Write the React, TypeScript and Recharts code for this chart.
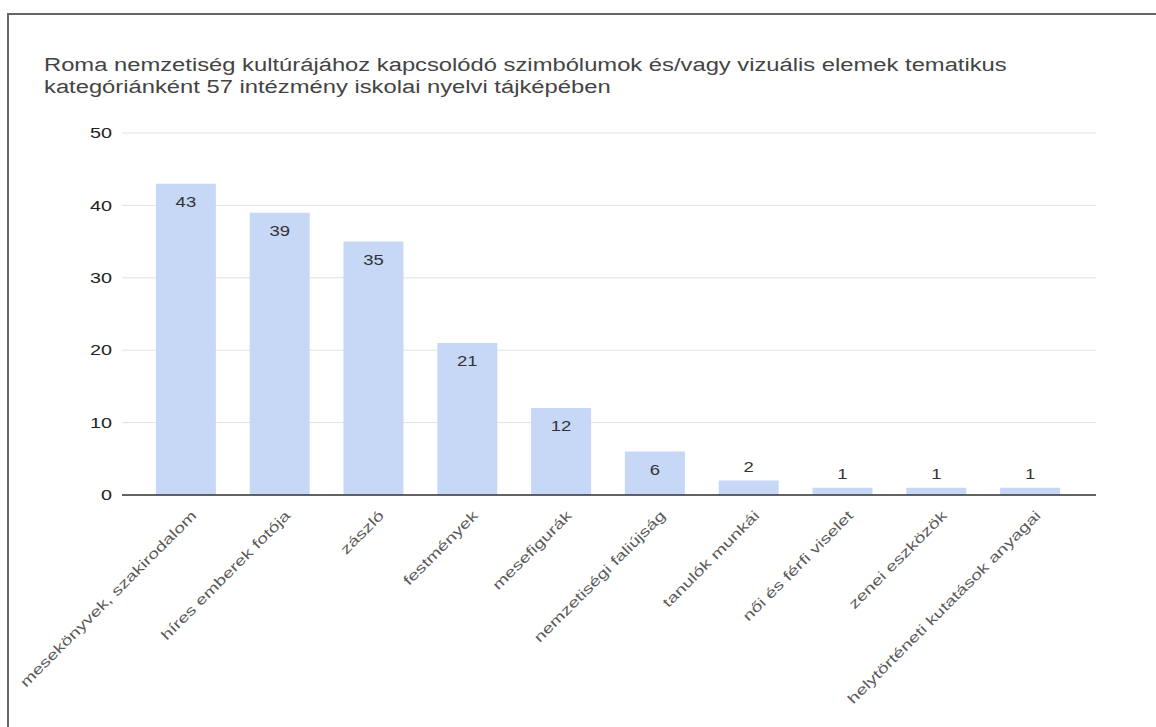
import React from 'react';
import { BarChart, Bar, XAxis, YAxis, CartesianGrid, LabelList } from 'recharts';

const categories = [
  'mesekönyvek, szakirodalom',
  'híres emberek fotója',
  'zászló',
  'festmények',
  'mesefigurák',
  'nemzetiségi faliújság',
  'tanulók munkái',
  'női és férfi viselet',
  'zenei eszközök',
  'helytörténeti kutatások anyagai',
];
const counts = [43, 39, 35, 21, 12, 6, 2, 1, 1, 1];
const yTicks = [0, 10, 20, 30, 40, 50];

const data = categories.map((name, i) => ({ name, value: counts[i] }));

const FONT = '"Liberation Sans", Arial, sans-serif';
// the reference text is drawn wider than a plain font would be
const STRETCH = 1.32;

// rotated category label under each bar
function CategoryTick({ x, y, payload }: any) {
  return (
    <g transform={`translate(${x + 8},${y + 10})`}>
      <text
        x={0}
        y={0}
        dy="0.35em"
        textAnchor="end"
        transform="rotate(-45) scale(1.38,1)"
        fill="#5a5a5a"
        fontSize={14}
        fontFamily={FONT}
      >
        {payload.value}
      </text>
    </g>
  );
}

function ValueTick({ x, y, payload }: any) {
  return (
    <g transform={`translate(${x},${y}) scale(${STRETCH},1)`}>
      <text x={0} y={0} dy="0.35em" textAnchor="end" fill="#222" fontSize={15} fontFamily={FONT}>
        {payload.value}
      </text>
    </g>
  );
}

// value label: inside the bar top when it fits, above it otherwise
function ValueLabel({ x, y, width, height, value }: any) {
  const inside = height > 30;
  return (
    <g transform={`translate(${x + width / 2},${inside ? y + 18 : y - 14}) scale(${STRETCH},1)`}>
      <text
        x={0}
        y={0}
        textAnchor="middle"
        dominantBaseline="central"
        fill="#333"
        fontSize={14}
        fontFamily={FONT}
      >
        {value}
      </text>
    </g>
  );
}

export default function App() {
  return (
    <div style={{ position: 'relative', width: 1156, height: 727, overflow: 'hidden', background: '#fff' }}>
      <style>{'body{margin:0;overflow:hidden}'}</style>
      <div
        style={{
          position: 'absolute',
          left: 7,
          top: 13,
          width: 1400,
          height: 900,
          border: '2px solid #666',
          boxSizing: 'border-box',
        }}
      />
      <div
        style={{
          position: 'absolute',
          left: 44,
          top: 54,
          fontFamily: FONT,
          fontSize: 18,
          lineHeight: '22px',
          color: '#444',
          whiteSpace: 'nowrap',
          transform: `scaleX(${STRETCH})`,
          transformOrigin: '0 0',
        }}
      >
        Roma nemzetiség kultúrájához kapcsolódó szimbólumok és/vagy vizuális elemek tematikus
        <br />
        kategóriánként 57 intézmény iskolai nyelvi tájképében
      </div>
      <div style={{ position: 'absolute', left: 0, top: 0 }}>
        <BarChart
          width={1140}
          height={710}
          data={data}
          margin={{ top: 133, right: 44, bottom: 15, left: 0 }}
          barCategoryGap="18%"
        >
          <CartesianGrid vertical={false} stroke="#e2e2e2" />
          <XAxis
            dataKey="name"
            interval={0}
            height={200}
            tick={<CategoryTick />}
            tickLine={false}
            axisLine={{ stroke: '#333', strokeWidth: 1.5 }}
            padding={{ left: 17, right: 19 }}
          />
          <YAxis
            width={122}
            domain={[0, 50]}
            ticks={yTicks}
            tickLine={false}
            axisLine={false}
            tickMargin={4}
            tick={<ValueTick />}
          />
          <Bar dataKey="value" fill="#c6d8f6" isAnimationActive={false}>
            <LabelList dataKey="value" content={<ValueLabel />} />
          </Bar>
        </BarChart>
      </div>
    </div>
  );
}
